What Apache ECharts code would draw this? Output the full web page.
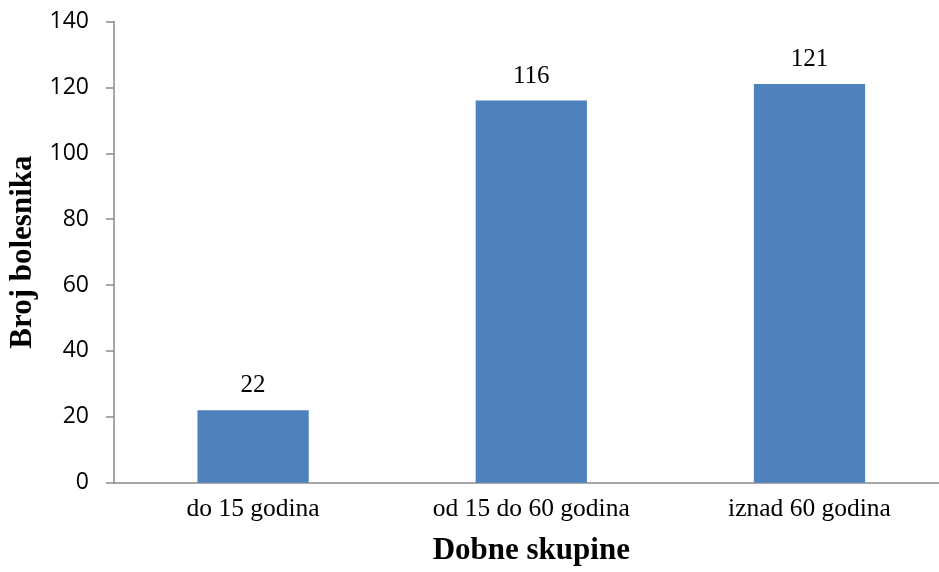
<!DOCTYPE html>
<html>
<head>
<meta charset="utf-8">
<script src="https://cdn.jsdelivr.net/npm/echarts@6/dist/echarts.min.js"></script>
<style>html,body{margin:0;padding:0;background:#fff;}#c{width:939px;height:572px;}</style>
</head>
<body>
<div id="c"></div>
<script>
var categories = ['do 15 godina', 'od 15 do 60 godina', 'iznad 60 godina'];
var values = [22, 116, 121];
var yTicks = [0, 20, 40, 60, 80, 100, 120, 140];

var chart = echarts.init(document.getElementById('c'));
chart.setOption({
  animation: false,
  grid: { left: 114, right: -9.6, top: 21.5, bottom: 89.3, containLabel: false, outerBoundsMode: 'none' },
  xAxis: {
    type: 'category',
    data: categories,
    name: 'Dobne skupine',
    nameLocation: 'middle',
    nameGap: 53,
    nameTextStyle: { fontFamily: 'Liberation Serif', fontWeight: 'bold', fontSize: 31, color: '#000' },
    axisLine: { lineStyle: { color: '#8a8a8a', width: 1.5 } },
    axisTick: { show: false },
    axisLabel: { fontFamily: 'Liberation Serif', fontSize: 25.5, color: '#000', margin: 14 }
  },
  yAxis: {
    type: 'value',
    min: yTicks[0],
    max: yTicks[yTicks.length - 1],
    interval: 20,
    name: 'Broj bolesnika',
    nameLocation: 'middle',
    nameGap: 76,
    nameRotate: 90,
    nameTextStyle: { fontFamily: 'Liberation Serif', fontWeight: 'bold', fontSize: 31, color: '#000' },
    axisLine: { show: true, lineStyle: { color: '#8a8a8a', width: 1.5 } },
    axisTick: { show: true, length: 8, inside: false, lineStyle: { color: '#8a8a8a', width: 1.5 } },
    splitLine: { show: false },
    axisLabel: { fontFamily: 'Open Sans', fontSize: 23, color: '#000', margin: 25 }
  },
  series: [{
    type: 'bar',
    data: values,
    barWidth: '40%',
    itemStyle: { color: '#4f81bd' },
    label: { show: true, position: 'top', distance: 12, fontFamily: 'Liberation Serif', fontSize: 25, color: '#000' }
  }]
});
</script>
</body>
</html>
